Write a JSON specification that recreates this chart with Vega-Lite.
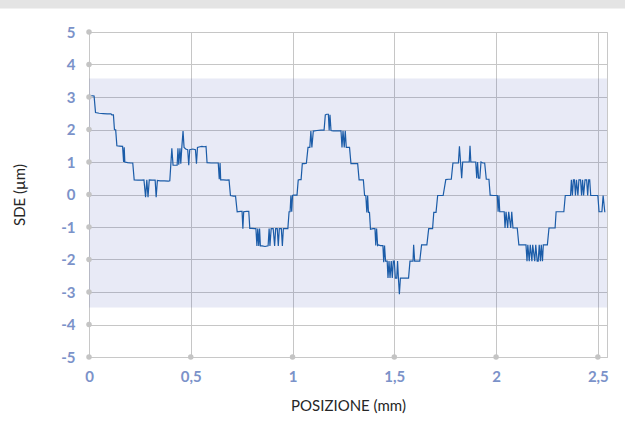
{
  "$schema": "https://vega.github.io/schema/vega-lite/v6.json",
  "width": 518,
  "height": 325,
  "autosize": "none",
  "padding": {"left": 89, "top": 32, "right": 18, "bottom": 79},
  "background": "white",
  "config": {
    "font": "Lato",
    "view": {"stroke": "#c8c8c8", "strokeWidth": 1},
    "axis": {
      "labelFont": "Lato",
      "labelFontWeight": "bold",
      "labelFontSize": 15,
      "labelColor": "#7b92c9",
      "labelOverlap": false,
      "titleFont": "Lato",
      "titleFontWeight": "normal",
      "titleFontSize": 15,
      "titleColor": "#262626",
      "gridColor": "#c6c6c6",
      "gridWidth": 1,
      "domainColor": "#c8c8c8",
      "ticks": false
    },
    "axisX": {"labelPadding": 12, "titlePadding": 14, "labelFlush": false, "tickCount": 12},
    "axisY": {"labelPadding": 14, "titlePadding": 33, "tickCount": 22}
  },
  "datasets": {
    "topbar": [{"xa": -0.5, "xb": 2.7, "ya": 5.72, "yb": 6.2}],
    "band": [{"xa": 0, "xb": 2.545, "ya": -3.48, "yb": 3.57}],
    "dots": [
      {"dx": 0, "dy": -5}, {"dx": 0, "dy": -4}, {"dx": 0, "dy": -3}, {"dx": 0, "dy": -2}, {"dx": 0, "dy": -1},
      {"dx": 0, "dy": 0}, {"dx": 0, "dy": 1}, {"dx": 0, "dy": 2}, {"dx": 0, "dy": 3}, {"dx": 0, "dy": 4}, {"dx": 0, "dy": 5},
      {"dx": 0.5, "dy": -5}, {"dx": 1, "dy": -5}, {"dx": 1.5, "dy": -5}, {"dx": 2, "dy": -5}, {"dx": 2.5, "dy": -5}
    ],
    "sde": [
      {"pos": 0, "sde": 3.05}, {"pos": 0.01, "sde": 3.04}, {"pos": 0.025, "sde": 3.03}, {"pos": 0.032, "sde": 2.52},
      {"pos": 0.05, "sde": 2.5}, {"pos": 0.07, "sde": 2.49}, {"pos": 0.09, "sde": 2.48}, {"pos": 0.108, "sde": 2.48},
      {"pos": 0.112, "sde": 2.45}, {"pos": 0.12, "sde": 2.45}, {"pos": 0.125, "sde": 2.0}, {"pos": 0.131, "sde": 1.99},
      {"pos": 0.137, "sde": 1.5}, {"pos": 0.15, "sde": 1.49}, {"pos": 0.165, "sde": 1.48}, {"pos": 0.17, "sde": 1.0},
      {"pos": 0.173, "sde": 1.45}, {"pos": 0.176, "sde": 1.0}, {"pos": 0.19, "sde": 0.98}, {"pos": 0.205, "sde": 0.97},
      {"pos": 0.215, "sde": 0.97}, {"pos": 0.222, "sde": 0.45}, {"pos": 0.24, "sde": 0.44}, {"pos": 0.26, "sde": 0.44},
      {"pos": 0.27, "sde": 0.45}, {"pos": 0.278, "sde": -0.08}, {"pos": 0.284, "sde": 0.45}, {"pos": 0.29, "sde": -0.08},
      {"pos": 0.296, "sde": 0.45}, {"pos": 0.31, "sde": 0.44}, {"pos": 0.325, "sde": 0.44}, {"pos": 0.33, "sde": -0.08},
      {"pos": 0.336, "sde": 0.43}, {"pos": 0.35, "sde": 0.42}, {"pos": 0.37, "sde": 0.42}, {"pos": 0.39, "sde": 0.41},
      {"pos": 0.397, "sde": 0.42}, {"pos": 0.407, "sde": 1.42}, {"pos": 0.413, "sde": 0.9}, {"pos": 0.425, "sde": 0.9},
      {"pos": 0.433, "sde": 0.9}, {"pos": 0.437, "sde": 1.42}, {"pos": 0.441, "sde": 0.92}, {"pos": 0.447, "sde": 1.42},
      {"pos": 0.451, "sde": 0.95}, {"pos": 0.456, "sde": 1.45}, {"pos": 0.462, "sde": 1.95}, {"pos": 0.467, "sde": 1.45},
      {"pos": 0.475, "sde": 1.4}, {"pos": 0.485, "sde": 1.38}, {"pos": 0.49, "sde": 0.9}, {"pos": 0.495, "sde": 1.38},
      {"pos": 0.51, "sde": 1.4}, {"pos": 0.523, "sde": 1.38}, {"pos": 0.528, "sde": 0.95}, {"pos": 0.533, "sde": 1.45},
      {"pos": 0.545, "sde": 1.47}, {"pos": 0.555, "sde": 1.48}, {"pos": 0.565, "sde": 1.47}, {"pos": 0.575, "sde": 1.48},
      {"pos": 0.58, "sde": 0.98}, {"pos": 0.6, "sde": 0.97}, {"pos": 0.62, "sde": 0.97}, {"pos": 0.635, "sde": 0.97},
      {"pos": 0.64, "sde": 0.47}, {"pos": 0.644, "sde": 0.97}, {"pos": 0.647, "sde": 0.45}, {"pos": 0.66, "sde": 0.45},
      {"pos": 0.675, "sde": 0.44}, {"pos": 0.688, "sde": 0.45}, {"pos": 0.695, "sde": -0.03}, {"pos": 0.71, "sde": -0.05},
      {"pos": 0.72, "sde": -0.05}, {"pos": 0.728, "sde": -0.53}, {"pos": 0.745, "sde": -0.52}, {"pos": 0.752, "sde": -0.52},
      {"pos": 0.756, "sde": -1.05}, {"pos": 0.76, "sde": -0.53}, {"pos": 0.775, "sde": -0.52}, {"pos": 0.785, "sde": -0.52},
      {"pos": 0.79, "sde": -1.04}, {"pos": 0.8, "sde": -1.04}, {"pos": 0.815, "sde": -1.05}, {"pos": 0.82, "sde": -1.05},
      {"pos": 0.825, "sde": -1.58}, {"pos": 0.829, "sde": -1.05}, {"pos": 0.834, "sde": -1.58}, {"pos": 0.838, "sde": -1.05},
      {"pos": 0.842, "sde": -1.58}, {"pos": 0.85, "sde": -1.58}, {"pos": 0.865, "sde": -1.6}, {"pos": 0.88, "sde": -1.58},
      {"pos": 0.885, "sde": -1.05}, {"pos": 0.889, "sde": -1.58}, {"pos": 0.895, "sde": -1.05}, {"pos": 0.905, "sde": -1.05},
      {"pos": 0.912, "sde": -1.58}, {"pos": 0.917, "sde": -1.05}, {"pos": 0.925, "sde": -1.05}, {"pos": 0.93, "sde": -1.58},
      {"pos": 0.935, "sde": -1.05}, {"pos": 0.945, "sde": -1.05}, {"pos": 0.95, "sde": -1.58}, {"pos": 0.955, "sde": -1.05},
      {"pos": 0.965, "sde": -1.05}, {"pos": 0.977, "sde": -1.05}, {"pos": 0.983, "sde": -0.53}, {"pos": 0.988, "sde": -0.53},
      {"pos": 0.992, "sde": -0.03}, {"pos": 0.996, "sde": -0.53}, {"pos": 1.0, "sde": -0.03}, {"pos": 1.005, "sde": -0.02},
      {"pos": 1.015, "sde": -0.02}, {"pos": 1.022, "sde": -0.02}, {"pos": 1.028, "sde": 0.45}, {"pos": 1.035, "sde": 0.46},
      {"pos": 1.042, "sde": 0.46}, {"pos": 1.048, "sde": 0.95}, {"pos": 1.058, "sde": 0.95}, {"pos": 1.068, "sde": 0.96},
      {"pos": 1.076, "sde": 1.45}, {"pos": 1.085, "sde": 1.45}, {"pos": 1.09, "sde": 1.95}, {"pos": 1.095, "sde": 1.45},
      {"pos": 1.102, "sde": 1.95}, {"pos": 1.12, "sde": 1.97}, {"pos": 1.14, "sde": 1.98}, {"pos": 1.155, "sde": 1.98},
      {"pos": 1.161, "sde": 2.45}, {"pos": 1.168, "sde": 2.47}, {"pos": 1.176, "sde": 2.47}, {"pos": 1.18, "sde": 1.97},
      {"pos": 1.184, "sde": 2.45}, {"pos": 1.189, "sde": 1.97}, {"pos": 1.2, "sde": 1.96}, {"pos": 1.215, "sde": 1.96},
      {"pos": 1.23, "sde": 1.96}, {"pos": 1.238, "sde": 1.96}, {"pos": 1.243, "sde": 1.45}, {"pos": 1.248, "sde": 1.96},
      {"pos": 1.254, "sde": 1.45}, {"pos": 1.259, "sde": 1.96}, {"pos": 1.264, "sde": 1.45}, {"pos": 1.272, "sde": 1.45},
      {"pos": 1.28, "sde": 1.45}, {"pos": 1.287, "sde": 0.95}, {"pos": 1.3, "sde": 0.95}, {"pos": 1.31, "sde": 0.95},
      {"pos": 1.32, "sde": 0.95}, {"pos": 1.327, "sde": 0.45}, {"pos": 1.337, "sde": 0.45}, {"pos": 1.348, "sde": 0.45},
      {"pos": 1.354, "sde": -0.03}, {"pos": 1.36, "sde": -0.03}, {"pos": 1.365, "sde": -0.55}, {"pos": 1.369, "sde": -0.03},
      {"pos": 1.373, "sde": -0.55}, {"pos": 1.378, "sde": -0.55}, {"pos": 1.383, "sde": -1.07}, {"pos": 1.395, "sde": -1.05},
      {"pos": 1.405, "sde": -1.05}, {"pos": 1.409, "sde": -1.57}, {"pos": 1.413, "sde": -1.05}, {"pos": 1.418, "sde": -1.57},
      {"pos": 1.422, "sde": -1.55}, {"pos": 1.432, "sde": -1.57}, {"pos": 1.444, "sde": -1.57}, {"pos": 1.448, "sde": -2.08},
      {"pos": 1.452, "sde": -1.57}, {"pos": 1.457, "sde": -2.05}, {"pos": 1.465, "sde": -2.05}, {"pos": 1.469, "sde": -2.57},
      {"pos": 1.474, "sde": -2.05}, {"pos": 1.479, "sde": -2.57}, {"pos": 1.485, "sde": -2.05}, {"pos": 1.49, "sde": -2.57},
      {"pos": 1.495, "sde": -2.05}, {"pos": 1.5, "sde": -2.05}, {"pos": 1.505, "sde": -2.57}, {"pos": 1.512, "sde": -2.57},
      {"pos": 1.516, "sde": -2.05}, {"pos": 1.52, "sde": -2.55}, {"pos": 1.525, "sde": -3.07}, {"pos": 1.53, "sde": -2.57},
      {"pos": 1.545, "sde": -2.57}, {"pos": 1.56, "sde": -2.57}, {"pos": 1.57, "sde": -2.57}, {"pos": 1.577, "sde": -2.05},
      {"pos": 1.585, "sde": -2.05}, {"pos": 1.592, "sde": -2.05}, {"pos": 1.595, "sde": -1.55}, {"pos": 1.6, "sde": -2.05},
      {"pos": 1.61, "sde": -2.05}, {"pos": 1.625, "sde": -2.05}, {"pos": 1.634, "sde": -1.55}, {"pos": 1.645, "sde": -1.55},
      {"pos": 1.66, "sde": -1.55}, {"pos": 1.669, "sde": -1.05}, {"pos": 1.68, "sde": -1.05}, {"pos": 1.688, "sde": -1.05},
      {"pos": 1.694, "sde": -0.55}, {"pos": 1.705, "sde": -0.55}, {"pos": 1.713, "sde": -0.03}, {"pos": 1.725, "sde": -0.03},
      {"pos": 1.74, "sde": -0.03}, {"pos": 1.753, "sde": 0.46}, {"pos": 1.765, "sde": 0.47}, {"pos": 1.78, "sde": 0.47},
      {"pos": 1.788, "sde": 0.97}, {"pos": 1.8, "sde": 0.97}, {"pos": 1.815, "sde": 0.97}, {"pos": 1.82, "sde": 1.48},
      {"pos": 1.831, "sde": 0.5}, {"pos": 1.836, "sde": 1.0}, {"pos": 1.85, "sde": 1.0}, {"pos": 1.868, "sde": 1.0},
      {"pos": 1.872, "sde": 1.5}, {"pos": 1.876, "sde": 1.0}, {"pos": 1.885, "sde": 1.0}, {"pos": 1.9, "sde": 1.0},
      {"pos": 1.905, "sde": 0.5}, {"pos": 1.909, "sde": 1.0}, {"pos": 1.914, "sde": 0.5}, {"pos": 1.92, "sde": 0.5},
      {"pos": 1.926, "sde": 1.0}, {"pos": 1.935, "sde": 0.97}, {"pos": 1.944, "sde": 0.97}, {"pos": 1.952, "sde": 0.47},
      {"pos": 1.965, "sde": 0.47}, {"pos": 1.971, "sde": -0.02}, {"pos": 1.985, "sde": -0.03}, {"pos": 2.0, "sde": -0.03},
      {"pos": 2.006, "sde": -0.03}, {"pos": 2.01, "sde": -0.53}, {"pos": 2.014, "sde": -0.03}, {"pos": 2.018, "sde": -0.53},
      {"pos": 2.03, "sde": -0.53}, {"pos": 2.04, "sde": -0.53}, {"pos": 2.044, "sde": -1.03}, {"pos": 2.049, "sde": -0.53},
      {"pos": 2.057, "sde": -1.03}, {"pos": 2.062, "sde": -0.53}, {"pos": 2.072, "sde": -1.03}, {"pos": 2.077, "sde": -0.53},
      {"pos": 2.083, "sde": -1.03}, {"pos": 2.095, "sde": -1.03}, {"pos": 2.104, "sde": -1.03}, {"pos": 2.112, "sde": -1.55},
      {"pos": 2.125, "sde": -1.55}, {"pos": 2.14, "sde": -1.55}, {"pos": 2.147, "sde": -1.55}, {"pos": 2.152, "sde": -2.05},
      {"pos": 2.156, "sde": -1.55}, {"pos": 2.163, "sde": -2.05}, {"pos": 2.168, "sde": -1.55}, {"pos": 2.176, "sde": -2.05},
      {"pos": 2.18, "sde": -1.55}, {"pos": 2.19, "sde": -2.05}, {"pos": 2.195, "sde": -1.55}, {"pos": 2.202, "sde": -2.05},
      {"pos": 2.207, "sde": -2.05}, {"pos": 2.212, "sde": -1.55}, {"pos": 2.218, "sde": -2.05}, {"pos": 2.222, "sde": -1.55},
      {"pos": 2.228, "sde": -2.05}, {"pos": 2.232, "sde": -1.55}, {"pos": 2.237, "sde": -1.55}, {"pos": 2.245, "sde": -1.55},
      {"pos": 2.252, "sde": -1.55}, {"pos": 2.26, "sde": -1.03}, {"pos": 2.275, "sde": -1.03}, {"pos": 2.29, "sde": -1.03},
      {"pos": 2.295, "sde": -0.53}, {"pos": 2.3, "sde": -0.53}, {"pos": 2.31, "sde": -0.53}, {"pos": 2.325, "sde": -0.53},
      {"pos": 2.333, "sde": -0.53}, {"pos": 2.34, "sde": -0.03}, {"pos": 2.355, "sde": -0.03}, {"pos": 2.366, "sde": -0.03},
      {"pos": 2.37, "sde": 0.45}, {"pos": 2.375, "sde": -0.03}, {"pos": 2.38, "sde": 0.45}, {"pos": 2.385, "sde": 0.45},
      {"pos": 2.39, "sde": -0.03}, {"pos": 2.395, "sde": 0.45}, {"pos": 2.402, "sde": -0.03}, {"pos": 2.407, "sde": 0.45},
      {"pos": 2.415, "sde": 0.45}, {"pos": 2.42, "sde": -0.03}, {"pos": 2.425, "sde": 0.45}, {"pos": 2.43, "sde": -0.03},
      {"pos": 2.437, "sde": 0.45}, {"pos": 2.445, "sde": 0.45}, {"pos": 2.45, "sde": -0.03}, {"pos": 2.455, "sde": 0.45},
      {"pos": 2.46, "sde": 0.45}, {"pos": 2.465, "sde": -0.03}, {"pos": 2.48, "sde": -0.03}, {"pos": 2.5, "sde": -0.03},
      {"pos": 2.506, "sde": -0.53}, {"pos": 2.52, "sde": -0.53}, {"pos": 2.526, "sde": -0.03}, {"pos": 2.534, "sde": -0.53},
      {"pos": 2.537, "sde": -0.53}
    ]
  },
  "layer": [
    {
      "data": {"name": "topbar"},
      "mark": {"type": "rect", "color": "#e4e4e4", "clip": false},
      "encoding": {
        "x": {
          "field": "xa", "type": "quantitative",
          "scale": {"domain": [0, 2.545], "nice": false, "zero": false},
          "axis": {
            "title": "POSIZIONE (mm)",
            "values": [0, 0.5, 1, 1.5, 2, 2.5],
            "labelExpr": "replace(format(datum.value, '.1~f'), '.', ',')"
          }
        },
        "x2": {"field": "xb"},
        "y": {
          "field": "ya", "type": "quantitative",
          "scale": {"domain": [-5, 5], "nice": false},
          "axis": {
            "title": "SDE (µm)",
            "values": [-5, -4, -3, -2, -1, 0, 1, 2, 3, 4, 5],
            "labelExpr": "datum.value < 0 ? '-' + format(-datum.value, 'd') : format(datum.value, 'd')"
          }
        },
        "y2": {"field": "yb"}
      }
    },
    {
      "data": {"name": "band"},
      "mark": {"type": "rect", "color": "#2e40ad", "opacity": 0.11},
      "encoding": {
        "x": {"field": "xa", "type": "quantitative",
          "axis": {
            "title": "POSIZIONE (mm)",
            "values": [0, 0.5, 1, 1.5, 2, 2.5],
            "labelExpr": "replace(format(datum.value, '.1~f'), '.', ',')"
          }},
        "x2": {"field": "xb"},
        "y": {"field": "ya", "type": "quantitative",
          "axis": {
            "title": "SDE (µm)",
            "values": [-5, -4, -3, -2, -1, 0, 1, 2, 3, 4, 5],
            "labelExpr": "datum.value < 0 ? '-' + format(-datum.value, 'd') : format(datum.value, 'd')"
          }},
        "y2": {"field": "yb"}
      }
    },
    {
      "data": {"name": "sde"},
      "mark": {"type": "line", "color": "#1b5ca8", "strokeWidth": 1.2, "interpolate": "linear"},
      "encoding": {
        "x": {"field": "pos", "type": "quantitative",
          "axis": {
            "title": "POSIZIONE (mm)",
            "values": [0, 0.5, 1, 1.5, 2, 2.5],
            "labelExpr": "replace(format(datum.value, '.1~f'), '.', ',')"
          }},
        "y": {"field": "sde", "type": "quantitative",
          "axis": {
            "title": "SDE (µm)",
            "values": [-5, -4, -3, -2, -1, 0, 1, 2, 3, 4, 5],
            "labelExpr": "datum.value < 0 ? '-' + format(-datum.value, 'd') : format(datum.value, 'd')"
          }},
        "order": {"field": "pos", "type": "quantitative"}
      }
    },
    {
      "data": {"name": "dots"},
      "mark": {"type": "point", "filled": true, "color": "#c4c4c4", "size": 30, "opacity": 1, "clip": false},
      "encoding": {
        "x": {"field": "dx", "type": "quantitative",
          "axis": {
            "title": "POSIZIONE (mm)",
            "values": [0, 0.5, 1, 1.5, 2, 2.5],
            "labelExpr": "replace(format(datum.value, '.1~f'), '.', ',')"
          }},
        "y": {"field": "dy", "type": "quantitative",
          "axis": {
            "title": "SDE (µm)",
            "values": [-5, -4, -3, -2, -1, 0, 1, 2, 3, 4, 5],
            "labelExpr": "datum.value < 0 ? '-' + format(-datum.value, 'd') : format(datum.value, 'd')"
          }}
      }
    }
  ]
}
